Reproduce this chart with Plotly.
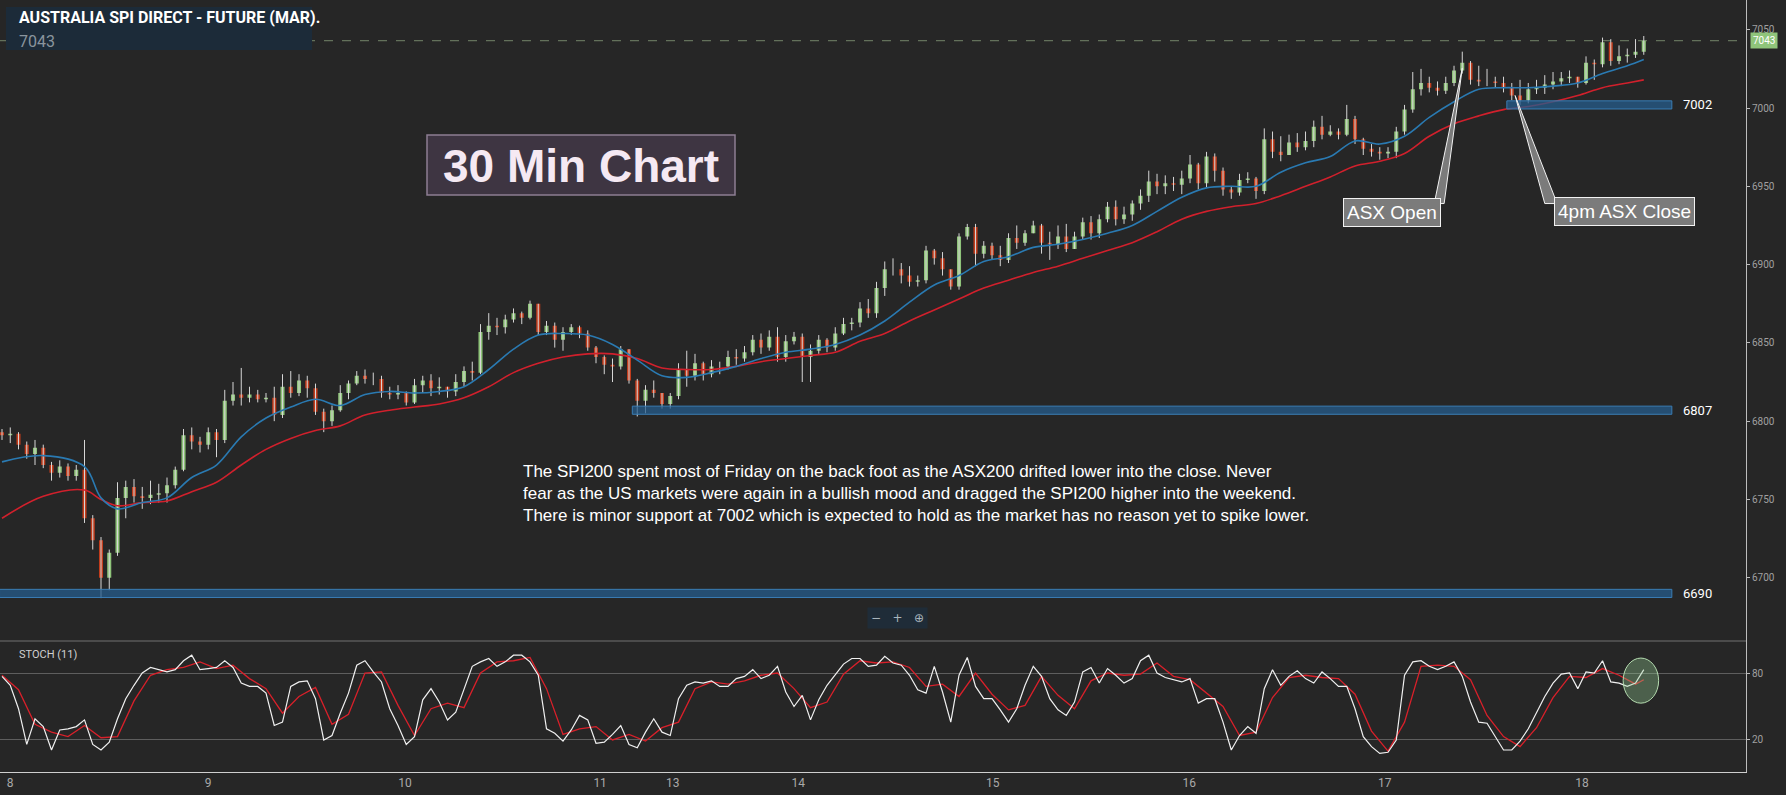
import plotly.graph_objects as go

BG = "#262626"

# ---- 30 min candles (index 0..199) ----
closes = [
    6791, 6792, 6785, 6779, 6783, 6772, 6767, 6771, 6765, 6769,
    6738, 6724, 6700, 6716, 6751, 6758, 6752, 6751, 6753, 6754,
    6759, 6769, 6791, 6787, 6785, 6793, 6788, 6813, 6817, 6815,
    6817, 6814, 6815, 6804, 6822, 6818, 6826, 6821, 6806, 6800,
    6807, 6818, 6824, 6829, 6827, 6827, 6818, 6817, 6818, 6812,
    6823, 6826, 6821, 6822, 6819, 6825, 6832, 6831, 6857, 6861,
    6860, 6865, 6869, 6866, 6875, 6857, 6861, 6852, 6857, 6860,
    6856, 6847, 6841, 6836, 6835, 6846, 6826, 6813, 6820, 6818,
    6811, 6816, 6833, 6829, 6837, 6830, 6835, 6835, 6841, 6840,
    6844, 6852, 6847, 6854, 6841, 6851, 6854, 6841, 6845, 6852,
    6847, 6856, 6862, 6863, 6872, 6869, 6885, 6897, 6897, 6893,
    6889, 6890, 6909, 6904, 6897, 6886, 6918, 6924, 6907, 6912,
    6906, 6903, 6917, 6914, 6920, 6925, 6914, 6913, 6918, 6910,
    6918, 6927, 6920, 6929, 6937, 6929, 6932, 6939, 6944, 6953,
    6950, 6952, 6951, 6955, 6964, 6952, 6969, 6960, 6948, 6946,
    6954, 6955, 6947, 6980, 6972, 6970, 6978, 6975, 6979, 6988,
    6983, 6985, 6983, 6993, 6980, 6974, 6972, 6971, 6972, 6985,
    6999, 7012, 7016, 7013, 7011, 7016, 7024, 7029, 7018, 7017,
    7017, 7016, 7013, 7008, 7005, 7012, 7013, 7015, 7017, 7019,
    7020, 7016, 7029, 7028, 7042, 7030, 7033, 7034, 7036, 7043,
]
highs = [
    6795, 6796, 6793, 6787, 6788, 6785, 6774, 6775, 6773, 6772,
    6788, 6740, 6726, 6718, 6761, 6762, 6763, 6758, 6762, 6760,
    6764, 6771, 6795, 6796, 6790, 6796, 6795, 6820, 6825, 6834,
    6822, 6820, 6818, 6822, 6830, 6832, 6830, 6829, 6824, 6808,
    6810, 6823, 6826, 6832, 6833, 6831, 6829, 6822, 6823, 6819,
    6827, 6829, 6830, 6828, 6822, 6830, 6835, 6838, 6862, 6869,
    6866, 6868, 6872, 6870, 6877, 6875, 6864, 6863, 6860, 6862,
    6861, 6858, 6848, 6842, 6840, 6848, 6846, 6827, 6823, 6826,
    6818, 6818, 6837, 6845, 6843, 6838, 6839, 6838, 6845, 6846,
    6848, 6855, 6856, 6858, 6860, 6855, 6857, 6856, 6849, 6855,
    6853, 6860, 6866, 6866, 6876, 6878, 6889, 6902, 6904, 6901,
    6899, 6893, 6912, 6910, 6908, 6897, 6920, 6926, 6926, 6915,
    6914, 6912, 6920, 6925, 6922, 6928, 6926, 6921, 6925, 6926,
    6921, 6930, 6931, 6932, 6940, 6941, 6937, 6941, 6948, 6960,
    6958, 6957, 6956, 6960, 6970, 6965, 6972, 6971, 6962, 6950,
    6958, 6959, 6956, 6987, 6985, 6982, 6983, 6984, 6985, 6992,
    6995, 6989, 6987, 7002, 6995, 6981, 6977, 6975, 6975, 6988,
    7002, 7023, 7025, 7020, 7017, 7020, 7027, 7036, 7030, 7027,
    7025, 7020, 7020, 7016, 7018, 7016, 7018, 7021, 7023, 7023,
    7024, 7020, 7033, 7031, 7045, 7044, 7040, 7038, 7044, 7046,
]
lows = [
    6788, 6786, 6782, 6776, 6772, 6770, 6762, 6764, 6762, 6762,
    6735, 6718, 6687, 6692, 6714, 6738, 6748, 6744, 6747, 6748,
    6748, 6757, 6768, 6782, 6780, 6782, 6777, 6786, 6810, 6810,
    6812, 6812, 6812, 6800, 6802, 6815, 6816, 6815, 6804, 6793,
    6797, 6806, 6814, 6823, 6824, 6823, 6815, 6814, 6814, 6810,
    6811, 6818, 6816, 6817, 6815, 6816, 6822, 6826, 6830, 6852,
    6855, 6856, 6863, 6862, 6865, 6855, 6855, 6847, 6845, 6855,
    6853, 6845, 6837, 6830, 6825, 6833, 6824, 6803, 6805, 6815,
    6808, 6808, 6814, 6822, 6826, 6826, 6828, 6830, 6833, 6836,
    6838, 6842, 6843, 6845, 6838, 6838, 6849, 6825, 6825, 6843,
    6844, 6845, 6855, 6858, 6860, 6866, 6866, 6880, 6893, 6888,
    6886, 6886, 6888, 6900, 6893, 6884, 6884, 6916, 6899, 6904,
    6903, 6899, 6901, 6910, 6912, 6920, 6907, 6903, 6910, 6908,
    6910, 6916, 6916, 6917, 6927, 6925, 6926, 6928, 6935, 6940,
    6945, 6945, 6947, 6945, 6952, 6948, 6949, 6953, 6944, 6942,
    6944, 6952, 6942, 6945, 6968, 6966, 6970, 6972, 6973, 6975,
    6980, 6982, 6980, 6982, 6977, 6970, 6969, 6967, 6968, 6968,
    6983, 6997, 7008, 7010, 7008, 7009, 7014, 7022, 7015, 7014,
    7014, 7013, 7010, 7005, 7002, 7003, 7009, 7009, 7012, 7014,
    7016, 7013, 7015, 7018, 7026, 7027, 7028, 7029, 7032, 7034,
]
first_open = 6793
opens = [first_open] + closes[:-1]
bars = list(range(len(closes)))

# moving averages (blue = fast, red = slow), sampled along the chart
ma_idx = [0, 5, 10, 12, 14] + list(range(17, 198, 3)) + [199]
ma_fast = [
    6774, 6778, 6771, 6751, 6744, 6748, 6751, 6764, 6772, 6790,
    6802, 6809, 6814, 6810, 6817, 6819, 6818, 6819, 6822, 6833,
    6846, 6855, 6856, 6855, 6849, 6839, 6829, 6828, 6831, 6835,
    6840, 6844, 6846, 6849, 6855, 6864, 6876, 6887, 6893, 6902,
    6905, 6911, 6913, 6916, 6920, 6925, 6934, 6943, 6949, 6950,
    6950, 6959, 6965, 6969, 6979, 6977, 6982, 6994, 7004, 7012,
    7013, 7013, 7014, 7016, 7022, 7027, 7031,
]
ma_slow = [
    6738, 6752, 6756, 6750, 6746, 6748, 6749, 6755, 6761, 6772,
    6782, 6789, 6794, 6797, 6804, 6807, 6809, 6811, 6815, 6822,
    6831, 6837, 6841, 6843, 6843, 6840, 6834, 6833, 6833, 6835,
    6838, 6840, 6842, 6844, 6851, 6856, 6864, 6871, 6878, 6885,
    6890, 6895, 6899, 6904, 6909, 6914, 6921, 6929, 6934, 6937,
    6939, 6944, 6950, 6956, 6963, 6966, 6971, 6982, 6990, 6995,
    6999, 7001, 7004, 7008, 7013, 7016, 7018,
]

# STOCH (11): %K per bar, %D every second bar
stoch_k = [
    77, 69, 48, 16, 39, 32, 11, 29, 30, 32,
    38, 16, 11, 18, 39, 57, 69, 80, 85, 83,
    81, 83, 91, 96, 83, 84, 85, 91, 85, 71,
    68, 68, 62, 33, 36, 68, 72, 73, 57, 20,
    24, 44, 62, 87, 91, 81, 72, 48, 33, 16,
    23, 56, 66, 54, 38, 45, 65, 86, 90, 93,
    86, 90, 96, 96, 90, 78, 30, 26, 19, 29,
    42, 38, 17, 18, 25, 33, 16, 13, 27, 39,
    27, 24, 57, 69, 72, 71, 73, 68, 68, 75,
    77, 83, 75, 78, 86, 63, 50, 60, 38, 56,
    69, 79, 88, 93, 93, 86, 87, 95, 89, 87,
    78, 65, 62, 86, 63, 36, 78, 94, 68, 57,
    57, 47, 36, 48, 69, 86, 77, 57, 47, 42,
    54, 81, 85, 71, 84, 78, 71, 75, 91, 96,
    80, 76, 74, 72, 75, 53, 57, 57, 36, 11,
    24, 32, 26, 66, 83, 69, 77, 82, 75, 71,
    81, 75, 68, 68, 48, 23, 14, 8, 9, 20,
    78, 90, 91, 86, 83, 86, 90, 77, 54, 36,
    35, 23, 11, 11, 19, 30, 45, 59, 71, 79,
    80, 66, 81, 80, 91, 72, 71, 68, 71, 83,
]
stoch_d_idx = list(range(0, 200, 2)) + [199]
stoch_d = [
    78, 65, 34, 27, 23, 33, 22, 23, 55, 78,
    83, 85, 90, 84, 87, 75, 66, 44, 59, 67,
    34, 43, 80, 81, 51, 24, 48, 53, 49, 80,
    90, 91, 94, 66, 25, 30, 32, 20, 25, 19,
    31, 36, 66, 72, 70, 73, 78, 80, 66, 49,
    54, 79, 91, 89, 90, 85, 68, 70, 59, 80,
    61, 47, 51, 77, 60, 48, 73, 80, 78, 79,
    89, 77, 74, 62, 50, 24, 27, 58, 76, 78,
    76, 75, 61, 28, 10, 36, 86, 87, 86, 74,
    42, 23, 14, 31, 58, 77, 76, 84, 78, 70,
    74,
]

day_pos = [0.97, 24.97, 48.85, 72.5, 81.3, 96.5, 120.1, 143.9, 167.6, 191.5]
day_labels = ["8", "9", "10", "11", "13", "14", "15", "16", "17", "18"]
price_ticks = [6700, 6750, 6800, 6850, 6900, 6950, 7000, 7050]
last_price = 7043

support_levels = [6690, 6807, 7002]
support_start = [-0.3, 76.4, 182.4]
support_end = 202.4

comment = ("The SPI200 spent most of Friday on the back foot as the ASX200 drifted lower into the close. Never<br>"
           "fear as the US markets were again in a bullish mood and dragged the SPI200 higher into the weekend.<br>"
           "There is minor support at 7002 which is expected to hold as the market has no reason yet to spike lower.")

# plot area is 1746 x 772 px; helpers for placing decorations in paper space
PW, PH = 1746.0, 772.0


def pxx(x):
    return x / PW


def pxy(y):
    return (PH - y) / PH


split = pxy(641)

fig = go.Figure()

# wicks (light grey like the source)
wx, wy = [], []
for i, h, l in zip(bars, highs, lows):
    wx += [i, i, None]
    wy += [l, h, None]
fig.add_trace(go.Scatter(x=wx, y=wy, mode="lines", line=dict(color="#d6d6d6", width=1),
                         hoverinfo="skip"))

fig.add_trace(go.Scatter(x=ma_idx, y=ma_slow, mode="lines",
                         line=dict(color="#d1202c", width=1.6, shape="spline")))
fig.add_trace(go.Scatter(x=ma_idx, y=ma_fast, mode="lines",
                         line=dict(color="#2a7ab2", width=1.6, shape="spline")))

fig.add_trace(go.Candlestick(
    x=bars, open=opens, high=highs, low=lows, close=closes,
    increasing=dict(fillcolor="#8fc47a", line=dict(color="#8fc47a", width=0)),
    decreasing=dict(fillcolor="#c23c1c", line=dict(color="#c23c1c", width=0)),
    whiskerwidth=0, hoverinfo="skip",
))

# stochastic panel
fig.add_trace(go.Scatter(x=stoch_d_idx, y=stoch_d, mode="lines", yaxis="y2",
                         line=dict(color="#d9202a", width=1.3)))
fig.add_trace(go.Scatter(x=bars, y=stoch_k, mode="lines", yaxis="y2",
                         line=dict(color="#f0f0f0", width=1.2)))

shapes = []
# last price dashed line
shapes.append(dict(type="line", xref="paper", x0=0, x1=1, yref="y", y0=last_price, y1=last_price,
                   line=dict(color="#74866a", width=1, dash="dash"), layer="below"))
# panel separator
shapes.append(dict(type="line", xref="paper", x0=0, x1=1, yref="paper", y0=split, y1=split,
                   line=dict(color="#707070", width=1)))
# support bands
for lvl, x0 in zip(support_levels, support_start):
    shapes.append(dict(type="rect", xref="x", yref="y", x0=x0, x1=support_end,
                       y0=lvl - 2.6, y1=lvl + 2.6,
                       fillcolor="rgba(38,92,140,0.75)", line=dict(color="#3a7db4", width=1)))
# title box
shapes.append(dict(type="rect", xref="paper", yref="paper", x0=pxx(6), x1=pxx(312),
                   y0=pxy(50), y1=pxy(7), fillcolor="#1c2b39", line=dict(width=0)))
# "30 Min Chart" box
shapes.append(dict(type="rect", xref="paper", yref="paper", x0=pxx(427), x1=pxx(735),
                   y0=pxy(195), y1=pxy(135), fillcolor="#3e3542",
                   line=dict(color="#8d7e93", width=1.5)))
# callout wedges
shapes.append(dict(type="path", xref="x", yref="y",
                   path="M 173.6,6939 L 177.0,7025.5 L 174.8,6939 Z",
                   fillcolor="#7b7b7b", line=dict(color="#f2f2f2", width=1)))
shapes.append(dict(type="path", xref="x", yref="y",
                   path="M 187.0,6939 L 183.4,7008 L 188.5,6939 Z",
                   fillcolor="#7b7b7b", line=dict(color="#f2f2f2", width=1)))
# highlight circle on stochastic
shapes.append(dict(type="circle", xref="x", yref="y2", x0=196.5, x1=200.8, y0=53, y1=93.4,
                   fillcolor="rgba(150,205,150,0.35)", line=dict(color="#b5dcb0", width=1)))

ann = []
ann.append(dict(xref="paper", yref="paper", x=pxx(17), y=pxy(18), xanchor="left", yanchor="middle",
                text="<b>AUSTRALIA SPI DIRECT - FUTURE (MAR).</b>", showarrow=False,
                font=dict(family="Liberation Sans Narrow, Roboto", size=16, color="#ffffff")))
ann.append(dict(xref="paper", yref="paper", x=pxx(17), y=pxy(42), xanchor="left", yanchor="middle",
                text=str(last_price), showarrow=False,
                font=dict(family="Roboto", size=16, color="#8a959e")))
ann.append(dict(xref="paper", yref="paper", x=pxx(581), y=pxy(166), xanchor="center", yanchor="middle",
                text="<b>30 Min Chart</b>", showarrow=False,
                font=dict(family="Liberation Sans, Arial", size=46, color="#f5e9f3")))
ann.append(dict(xref="paper", yref="paper", x=pxx(521), y=pxy(460), xanchor="left", yanchor="top",
                text=comment, showarrow=False, align="left",
                font=dict(family="Liberation Sans, Arial", size=17, color="#ffffff")))
ann.append(dict(xref="paper", yref="paper", x=pxx(1392), y=pxy(213), xanchor="center", yanchor="middle",
                text="ASX Open", showarrow=False, bgcolor="#7b7b7b", bordercolor="#f2f2f2",
                borderwidth=1, borderpad=3,
                font=dict(family="Liberation Sans, Arial", size=19, color="#ffffff")))
ann.append(dict(xref="paper", yref="paper", x=pxx(1624), y=pxy(212), xanchor="center", yanchor="middle",
                text="4pm ASX Close", showarrow=False, bgcolor="#7b7b7b", bordercolor="#f2f2f2",
                borderwidth=1, borderpad=3,
                font=dict(family="Liberation Sans, Arial", size=19, color="#ffffff")))
for lvl in support_levels:
    ann.append(dict(xref="x", yref="y", x=203.5, y=lvl, xanchor="left", yanchor="middle",
                    text=str(lvl), showarrow=False,
                    font=dict(family="Roboto", size=13, color="#ffffff")))
ann.append(dict(xref="paper", yref="y", x=1, y=last_price, xanchor="left", yanchor="middle",
                xshift=4, text=str(last_price), showarrow=False, bgcolor="#8fc47a", borderpad=2,
                font=dict(family="Roboto", size=10, color="#ffffff")))
ann.append(dict(xref="paper", yref="paper", x=pxx(898), y=pxy(618), xanchor="center", yanchor="middle",
                text="−   +   ⊕", showarrow=False, bgcolor="#1f2c38", borderpad=3,
                font=dict(family="DejaVu Sans", size=12, color="#a8b4bc")))
ann.append(dict(xref="paper", yref="paper", x=pxx(17), y=pxy(654), xanchor="left", yanchor="middle",
                text="STOCH (11)", showarrow=False,
                font=dict(family="Roboto", size=11, color="#d0d0d0")))

axis_font = dict(family="Roboto", size=10, color="#a0a0a0")
fig.update_layout(
    width=1786, height=795,
    margin=dict(l=0, r=40, t=0, b=23),
    paper_bgcolor=BG, plot_bgcolor=BG,
    showlegend=False, hovermode=False,
    xaxis=dict(domain=[0, 1], anchor="y2", range=[-0.242, 211.39],
               tickvals=day_pos, ticktext=day_labels, showgrid=False, zeroline=False,
               showline=True, linecolor="#cfcfcf", linewidth=1,
               tickfont=dict(family="Roboto", size=12, color="#a9a9a9"),
               rangeslider=dict(visible=False)),
    yaxis=dict(domain=[split, 1], anchor="x", side="right", range=[6659.6, 7069.0],
               tickvals=price_ticks, showgrid=False, zeroline=False,
               showline=True, linecolor="#bdbdbd", ticks="outside", ticklen=3,
               tickcolor="#bdbdbd", tickfont=axis_font),
    yaxis2=dict(domain=[0, split], anchor="x", side="right", range=[-8.7, 108.7],
                tickvals=[20, 80], showgrid=True, gridcolor="#5e5e5e", zeroline=False,
                showline=True, linecolor="#bdbdbd", ticks="outside", ticklen=3,
                tickcolor="#bdbdbd", tickfont=axis_font),
    shapes=shapes,
    annotations=ann,
)

# drop the page's default body margin so the figure sits at the window origin
fig.write_html("out.html", config={"displayModeBar": False},
               post_script="document.body.style.margin='0';"
                           "document.body.style.background='#262626';")
